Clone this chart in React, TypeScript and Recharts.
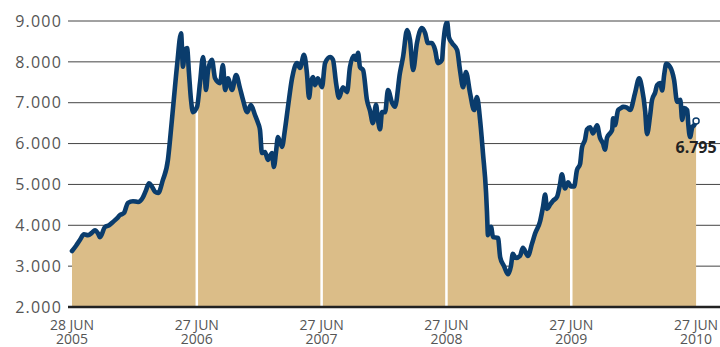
import React from 'react';
import {
  ComposedChart,
  Area,
  Line,
  XAxis,
  YAxis,
  CartesianGrid,
  ReferenceLine,
  ReferenceDot,
  Label,
} from 'recharts';

// Weeks elapsed since 28 Jun 2005
const weeks = [
  0, 1.7, 3.3, 5.0, 6.7, 8.4, 9.6, 10.9, 11.7, 13.8, 15.5, 17.1, 18.8, 20.1, 21.7, 23.4, 25.5, 27.6, 29.7, 30.9,
  32.2, 33.4, 34.7, 36.0, 38.0, 40.1, 41.0, 42.6, 43.9, 45.6, 46.4, 47.2, 48.1, 48.9, 49.7, 50.6, 52.3, 53.5, 54.8,
  55.6, 56.0, 56.9, 58.5, 59.8, 61.9, 63.1, 64.0, 65.2, 66.9, 68.6, 70.2, 71.5, 73.2, 74.8, 76.5, 77.8, 78.6, 79.4,
  80.7, 81.9, 82.8, 83.6, 84.4, 85.3, 86.1, 87.8, 89.0, 90.3, 92.0, 94.1, 95.3, 97.0, 98.2, 99.1, 99.9, 100.8, 101.6,
  102.8, 104.5, 105.8, 107.9, 109.1, 110.4, 111.6, 113.3, 115.0, 116.2, 117.9, 118.7, 119.6, 120.4, 121.7, 123.3,
  124.6, 125.8, 127.1, 127.9, 128.8, 129.6, 130.9, 132.1, 133.8, 135.0, 137.1, 138.4, 140.1, 141.3, 142.6, 144.2,
  146.3, 147.6, 148.8, 150.5, 151.8, 153.0, 154.7, 155.1, 156.8, 157.6, 158.9, 161.0, 162.2, 163.5, 164.7, 166.4,
  168.1, 169.3, 170.6, 171.8, 173.1, 173.5, 173.9, 175.2, 176.0, 178.1, 179.0, 180.6, 182.3, 183.5, 184.3, 185.6,
  187.3, 188.5, 190.6, 192.3, 193.6, 195.7, 196.9, 197.8, 198.6, 199.8, 201.1, 202.8, 204.0, 204.8, 206.1, 207.4,
  208.6, 209.9, 211.1, 212.4, 213.2, 214.5, 215.3, 216.6, 217.8, 219.5, 220.7, 222.0, 222.8, 223.7, 224.9, 225.8,
  226.2, 227.0, 228.3, 229.5, 230.4, 232.0, 233.3, 235.4, 237.1, 238.3, 239.6, 240.4, 241.7, 242.5, 243.8, 244.6,
  245.9, 246.7, 247.6, 248.4, 250.1, 251.7, 253.0, 254.3, 255.1, 255.9, 257.2, 257.6, 258.4, 259.3, 260.1, 260.9,
];

const values = [
  3370, 3500, 3640, 3780, 3760, 3820, 3880, 3800, 3710, 3960, 4000, 4080, 4170, 4250, 4300, 4550, 4590, 4570, 4690, 4850,
  5030, 4950, 4820, 4790, 5110, 5600, 6100, 7100, 7900, 8700, 7880, 8300, 8340, 7730, 7100, 6770, 6900, 7480, 8120,
  7600, 7310, 7800, 8050, 7600, 7480, 7920, 7310, 7600, 7310, 7680, 7360, 7070, 6770, 6940, 6700, 6500, 6330, 5770,
  5790, 5600, 5700, 5770, 5430, 5800, 6160, 5920, 6330, 6900, 7600, 7970, 7850, 8170, 7730, 7120, 7500, 7630, 7430,
  7600, 7380, 7970, 8120, 8050, 7480, 7120, 7380, 7260, 7870, 8150, 8050, 8220, 7870, 7800, 7070,
  6800, 6500, 6950, 6580, 6350, 6770, 6770, 7310, 7000, 6900, 7730, 8120, 8780, 8540, 7800, 8460,
  8830, 8710, 8460, 8460, 8290, 7970, 8050, 8360, 8980, 8600, 8460, 8290, 7800, 7380, 7750, 7240,
  6820, 7140, 6580, 5770, 4800, 4300, 3760, 3960, 3710, 3690, 3220, 3000, 2800, 3000, 3300, 3200,
  3250, 3450, 3250, 3550, 3800, 4100, 4450, 4750, 4400, 4500, 4600, 4700, 5000, 5250, 4900, 5050,
  4950, 4950, 5350, 5500, 5900, 6100, 6350, 6400, 6250, 6450, 6150, 6000, 5850, 6150, 6250, 6330,
  6620, 6450, 6820, 6870, 6900, 6880, 6820, 7240, 7600, 7350, 6800, 6230, 6700, 7070, 7250, 7430,
  7480, 7300, 7700, 7950, 7870, 7560, 7020, 7070, 6580, 6870, 6820, 6500, 6160, 6400, 6450, 6550,
];

const yTicks = [2000, 3000, 4000, 5000, 6000, 7000, 8000, 9000];
const xTickWeeks = [0, 52.18, 104.36, 156.54, 208.72, 260.9];
const xTickDates = ['28 JUN', '27 JUN', '27 JUN', '27 JUN', '27 JUN', '27 JUN'];
const xTickYears = ['2005', '2006', '2007', '2008', '2009', '2010'];
const yearBoundaries = [52.18, 104.36, 156.54, 208.72];
const lastLabel = '6.795';

const data = weeks.map((w, i) => ({ w, v: values[i] }));

function valueAt(w: number): number {
  for (let i = 0; i < weeks.length - 1; i++) {
    if (w >= weeks[i] && w <= weeks[i + 1]) {
      const t = (w - weeks[i]) / (weeks[i + 1] - weeks[i]);
      return values[i] + t * (values[i + 1] - values[i]);
    }
  }
  return values[values.length - 1];
}

const fmt = (v: number) => `${Math.floor(v / 1000)}.${String(v % 1000).padStart(3, '0')}`;

const FONT = "'Open Sans', 'DejaVu Sans', sans-serif";
const BLUE = '#0a3c6c';

const XTick = (props: any) => {
  const { x, y, index } = props;
  return (
    <g>
      <text x={x} y={y + 23} textAnchor="middle" fill="#555" fontSize={14} fontFamily={FONT}>
        {xTickDates[index]}
      </text>
      <text x={x} y={y + 37} textAnchor="middle" fill="#555" fontSize={14} fontFamily={FONT}>
        {xTickYears[index]}
      </text>
    </g>
  );
};

export default function App() {
  const lastIdx = weeks.length - 1;
  return (
    <div style={{ position: 'absolute', left: 0, top: 0, width: 720, height: 347, background: '#fff' }}>
      <ComposedChart width={720} height={347} data={data} margin={{ top: 21, right: 0, bottom: 0, left: 0 }}>
        <CartesianGrid horizontal vertical={false} stroke="#444" strokeWidth={1} />
        <XAxis
          dataKey="w"
          type="number"
          domain={[-1.67, 270.9]}
          ticks={xTickWeeks}
          interval={0}
          tick={<XTick />}
          tickLine={false}
          tickSize={0}
          tickMargin={0}
          axisLine={{ stroke: '#222', strokeWidth: 2.5 }}
          height={40}
          allowDataOverflow
        />
        <YAxis
          domain={[2000, 9000]}
          ticks={yTicks}
          width={68}
          tickFormatter={fmt}
          axisLine={false}
          tickLine={false}
          tickSize={0}
          tickMargin={6}
          tick={{ fill: '#555', fontSize: 16, fontFamily: FONT, letterSpacing: 1.2 }}
          allowDataOverflow
        />
        <Area
          dataKey="v"
          type="monotone"
          fill="#dbbd88"
          fillOpacity={1}
          stroke="none"
          isAnimationActive={false}
          baseValue={2000}
        />
        {yearBoundaries.map((b) => (
          <ReferenceLine
            key={b}
            segment={[
              { x: b, y: 2000 },
              { x: b, y: valueAt(b) - 50 },
            ]}
            stroke="#fff"
            strokeWidth={2.5}
            zIndex={150}
          />
        ))}
        <Line
          dataKey="v"
          type="monotone"
          stroke={BLUE}
          strokeWidth={4.6}
          strokeLinejoin="round"
          strokeLinecap="round"
          dot={false}
          isAnimationActive={false}
        />
        <ReferenceDot
          x={weeks[lastIdx]}
          y={values[lastIdx]}
          r={3}
          fill="#fff"
          stroke={BLUE}
          strokeWidth={1.5}
          zIndex={1500}
        >
          <Label
            value={lastLabel}
            position="bottom"
            offset={18}
            fill="#222"
            fontSize={16}
            fontWeight="bold"
            fontFamily={FONT}
          />
        </ReferenceDot>
      </ComposedChart>
    </div>
  );
}
